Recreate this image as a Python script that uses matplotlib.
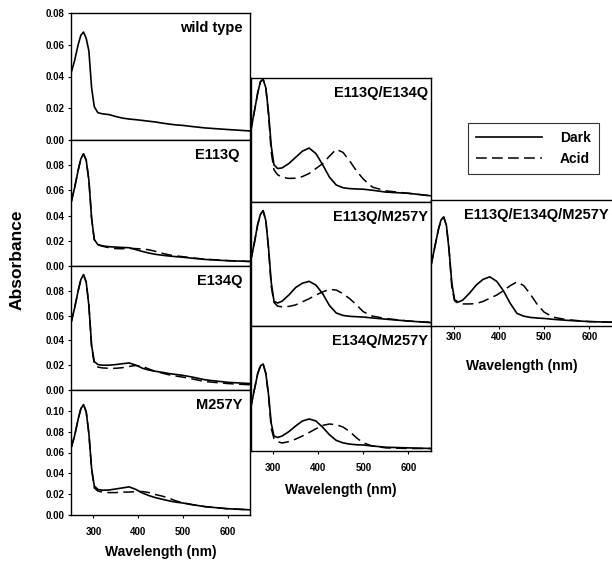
import matplotlib
matplotlib.use('Agg')
import matplotlib.pyplot as plt
from matplotlib.lines import Line2D

plt.rcParams['font.family'] = ['Liberation Sans', 'DejaVu Sans']
plt.rcParams['font.weight'] = 'bold'

# wavelength grid (nm) shared by all spectra
wl = [250, 258, 266, 272, 278, 284, 290, 296, 302, 310, 320, 335, 350, 365,
      380, 395, 410, 425, 440, 455, 470, 485, 500, 520, 550, 600, 650]

wt_dark = [0.042, 0.050, 0.060, 0.066, 0.068, 0.064, 0.056, 0.033, 0.021, 0.0172,
           0.0165, 0.016, 0.0148, 0.0138, 0.0132, 0.0128, 0.0123, 0.0118, 0.0113,
           0.0106, 0.0100, 0.0095, 0.0092, 0.0085, 0.0076, 0.0066, 0.0057]

e113q_dark = [0.050, 0.062, 0.076, 0.085, 0.089, 0.084, 0.068, 0.038, 0.021, 0.0170,
              0.0160, 0.0153, 0.0150, 0.0147, 0.0145, 0.0130, 0.0115, 0.0102, 0.0092,
              0.0085, 0.0079, 0.0074, 0.0070, 0.0062, 0.0052, 0.0042, 0.0036]
e113q_acid = [0.050, 0.062, 0.076, 0.085, 0.089, 0.084, 0.068, 0.038, 0.021, 0.0168,
              0.0157, 0.0145, 0.0138, 0.0137, 0.0140, 0.0138, 0.0135, 0.0128, 0.0115,
              0.0100, 0.0088, 0.0080, 0.0074, 0.0065, 0.0054, 0.0043, 0.0036]

e134q_dark = [0.054, 0.066, 0.080, 0.089, 0.093, 0.087, 0.068, 0.036, 0.023, 0.0205,
              0.020, 0.020, 0.0205, 0.0212, 0.0218, 0.020, 0.0175, 0.0160, 0.0150,
              0.0142, 0.0132, 0.0125, 0.0118, 0.0105, 0.0082, 0.0062, 0.0052]
e134q_acid = [0.054, 0.066, 0.080, 0.089, 0.093, 0.087, 0.068, 0.035, 0.021, 0.0185,
              0.0178, 0.0175, 0.0175, 0.018, 0.019, 0.0198, 0.019, 0.0168, 0.0148,
              0.0135, 0.0122, 0.0112, 0.0104, 0.0090, 0.0068, 0.0052, 0.0042]

m257y_dark = [0.064, 0.076, 0.092, 0.102, 0.106, 0.099, 0.078, 0.045, 0.028, 0.0245,
              0.0238, 0.024, 0.025, 0.026, 0.027, 0.0245, 0.021, 0.0185, 0.0165,
              0.0150, 0.0135, 0.0123, 0.0115, 0.0100, 0.0080, 0.0060, 0.0050]
m257y_acid = [0.064, 0.076, 0.092, 0.102, 0.106, 0.099, 0.078, 0.044, 0.026, 0.023,
              0.022, 0.0215, 0.0215, 0.022, 0.022, 0.0225, 0.0225, 0.0215, 0.0195,
              0.0180, 0.0160, 0.0135, 0.0118, 0.0100, 0.0080, 0.0060, 0.0050]

e113q_e134q_dark = [0.0565, 0.072, 0.088, 0.097, 0.099, 0.092, 0.072, 0.045, 0.030, 0.027,
                    0.0275, 0.031, 0.036, 0.041, 0.0435, 0.039, 0.030, 0.020, 0.0137,
                    0.0115, 0.0108, 0.0105, 0.0103, 0.0095, 0.008, 0.007, 0.005]
e113q_e134q_acid = [0.0565, 0.072, 0.088, 0.097, 0.099, 0.092, 0.070, 0.040, 0.026, 0.022,
                    0.020, 0.019, 0.0192, 0.0205, 0.023, 0.027, 0.031, 0.037, 0.0425,
                    0.040, 0.033, 0.025, 0.0185, 0.012, 0.009, 0.007, 0.005]

e113q_m257y_dark = [0.052, 0.066, 0.082, 0.090, 0.093, 0.085, 0.063, 0.035, 0.020, 0.0185,
                    0.020, 0.025, 0.031, 0.0345, 0.036, 0.033, 0.026, 0.0165, 0.0105,
                    0.0085, 0.0078, 0.0075, 0.0072, 0.0065, 0.0055, 0.004, 0.0027]
e113q_m257y_acid = [0.052, 0.066, 0.082, 0.090, 0.093, 0.085, 0.062, 0.032, 0.019, 0.016,
                    0.0155, 0.0158, 0.017, 0.0195, 0.022, 0.025, 0.0275, 0.0295, 0.029,
                    0.026, 0.022, 0.017, 0.0115, 0.008, 0.006, 0.004, 0.003]

e134q_m257y_dark = [0.034, 0.048, 0.062, 0.068, 0.0696, 0.062, 0.045, 0.022, 0.012, 0.0108,
                    0.012, 0.0155, 0.020, 0.024, 0.0256, 0.024, 0.019, 0.013, 0.0085,
                    0.0065, 0.0055, 0.005, 0.0048, 0.004, 0.003, 0.0025, 0.002]
e134q_m257y_acid = [0.034, 0.048, 0.062, 0.068, 0.0696, 0.062, 0.044, 0.018, 0.010, 0.0075,
                    0.0064, 0.0075, 0.0095, 0.012, 0.0148, 0.0178, 0.0205, 0.0216, 0.021,
                    0.0192, 0.0155, 0.0105, 0.0065, 0.004, 0.0025, 0.002, 0.002]

triple_dark = [0.048, 0.062, 0.076, 0.084, 0.0865, 0.080, 0.060, 0.034, 0.021, 0.019,
               0.0205, 0.026, 0.0325, 0.037, 0.039, 0.0355, 0.028, 0.018, 0.010,
               0.0078, 0.0068, 0.0063, 0.006, 0.0053, 0.0045, 0.0035, 0.003]
triple_acid = [0.048, 0.062, 0.076, 0.084, 0.0865, 0.080, 0.060, 0.031, 0.020, 0.018,
               0.0175, 0.0175, 0.0178, 0.0195, 0.022, 0.0245, 0.028, 0.032, 0.035,
               0.032, 0.025, 0.017, 0.011, 0.007, 0.005, 0.0035, 0.003]

xticks = [300, 400, 500, 600]
dash = (0, (7, 3.5))

fig = plt.figure(figsize=(6.12, 5.63), dpi=100)
W, H = 612.0, 563.0


def panel(x0, x1, y0, y1, ylim, title, dark, acid=None, yticks=None,
          xlab=False, xpad=4, title_dx=6):
    ax = fig.add_axes([x0 / W, 1 - y1 / H, (x1 - x0) / W, (y1 - y0) / H])
    ax.plot(wl, dark, color='black', lw=1.2)
    if acid is not None:
        ax.plot(wl, acid, color='black', lw=1.1, linestyle=dash)
    ax.set_xlim(250, 650)
    ax.set_ylim(*ylim)
    for s in ax.spines.values():
        s.set_linewidth(1.0)
    if yticks is not None:
        ax.set_yticks(yticks)
        ax.set_yticklabels(['%.2f' % v for v in yticks], fontsize=7, fontweight='bold')
        ax.tick_params(axis='y', length=2.5, width=0.8, pad=2)
    else:
        ax.set_yticks([])
    if xlab:
        ax.set_xticks(xticks)
        ax.set_xticklabels([str(v) for v in xticks], fontsize=7, fontweight='bold')
        ax.tick_params(axis='x', length=2.5, width=0.8, pad=xpad)
    else:
        ax.set_xticks([])
    ax.text(1 - title_dx / (x1 - x0), 1 - 15 / (y1 - y0), title,
            transform=ax.transAxes, ha='right', va='center',
            fontsize=10.5, fontweight='bold')
    return ax


# left column
panel(71, 250, 13, 140, (0, 0.08), 'wild type', wt_dark,
      yticks=[0.00, 0.02, 0.04, 0.06, 0.08], title_dx=7)
panel(71, 250, 140, 266, (0, 0.1), 'E113Q', e113q_dark, e113q_acid,
      yticks=[0.00, 0.02, 0.04, 0.06, 0.08], title_dx=10)
panel(71, 250, 266, 390, (0, 0.1), 'E134Q', e134q_dark, e134q_acid,
      yticks=[0.00, 0.02, 0.04, 0.06, 0.08], title_dx=7)
ax = panel(71, 250, 390, 515, (0, 0.12), 'M257Y', m257y_dark, m257y_acid,
           yticks=[0.00, 0.02, 0.04, 0.06, 0.08, 0.10], xlab=True, xpad=6, title_dx=8)
ax.set_xlabel('Wavelength (nm)', fontsize=10, fontweight='bold', labelpad=6)

# middle column
panel(250.5, 431, 78, 202, (0, 0.1), 'E113Q/E134Q', e113q_e134q_dark, e113q_e134q_acid,
      title_dx=3)
panel(250.5, 431, 202, 326, (0, 0.1), 'E113Q/M257Y', e113q_m257y_dark, e113q_m257y_acid,
      title_dx=3)
ax = panel(250.5, 431, 326, 451, (0, 0.1), 'E134Q/M257Y', e134q_m257y_dark, e134q_m257y_acid,
           xlab=True, xpad=6, title_dx=3)
ax.set_xlabel('Wavelength (nm)', fontsize=10, fontweight='bold', labelpad=7)

# right column
ax = panel(431, 612, 200, 326, (0, 0.1), 'E113Q/E134Q/M257Y', triple_dark, triple_acid,
           xlab=True, xpad=2, title_dx=3)
ax.spines['right'].set_visible(False)
ax.set_xlabel('Wavelength (nm)', fontsize=10, fontweight='bold', labelpad=12)

fig.text(17 / W, 1 - 260 / H, 'Absorbance', rotation=90, ha='center', va='center',
         fontsize=12.5, fontweight='bold')

handles = [Line2D([], [], color='black', lw=1.2),
           Line2D([], [], color='black', lw=1.1, linestyle=dash)]
leg = fig.legend(handles, ['Dark', 'Acid'], loc='upper left',
                 bbox_to_anchor=(468 / W, 1 - 123 / H),
                 prop={'size': 10, 'weight': 'bold'}, handlelength=4.7,
                 handletextpad=1.3, fancybox=False, edgecolor='black',
                 borderpad=0.6, labelspacing=0.45, borderaxespad=0)
leg.get_frame().set_linewidth(0.8)

fig.savefig('out.png', dpi=100)
